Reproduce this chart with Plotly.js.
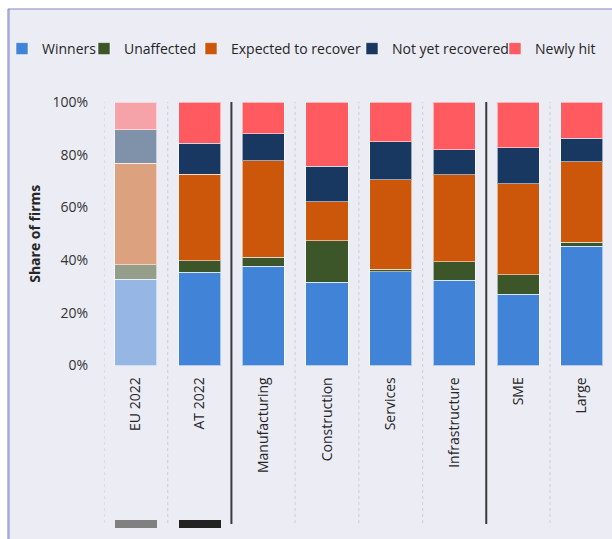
<!DOCTYPE html>
<html>
<head>
<meta charset="utf-8">
<script src="https://cdn.plot.ly/plotly-3.0.1.min.js"></script>
<style>
  html, body { margin: 0; padding: 0; background: #ffffff; }
  #chart { width: 612px; height: 539px; }
</style>
</head>
<body>
<div id="chart"></div>
<script>
// ---- data (shares of firms, %) ----
const categories = ['EU 2022', 'AT 2022', 'Manufacturing', 'Construction', 'Services', 'Infrastructure', 'SME', 'Large'];
const winners         = [32.7, 35.3, 37.7, 31.6, 35.6, 32.4, 27.1, 45.3];
const unaffected      = [5.6, 4.5, 3.4, 15.8, 0.9, 6.9, 7.4, 1.5];
const expectedRecover = [38.4, 32.8, 36.7, 14.8, 34.0, 33.1, 34.5, 30.5];
const notYetRecovered = [12.7, 11.7, 10.2, 13.5, 14.4, 9.5, 13.6, 9.0];
const newlyHit        = [10.6, 15.7, 12.0, 24.3, 15.1, 18.1, 17.4, 13.7];
const seriesNames = ['Winners', 'Unaffected', 'Expected to recover', 'Not yet recovered', 'Newly hit'];
const yTickValues = [0, 20, 40, 60, 80, 100];
const yTickLabels = ['0%', '20%', '40%', '60%', '80%', '100%'];
const benchmarkCategories = ['EU 2022', 'AT 2022'];
const benchmarkMarks = [1, 1];

// ---- styles ----
const darkColors  = ['#4183D6', '#3D5629', '#CC560A', '#183861', '#FF5A60'];
const lightColors = ['#96B7E3', '#949E8A', '#DCA17F', '#8092AA', '#F6A2A9'];
const legendWidths = [37, 62, 116, 98, 65];
const seriesValues = [winners, unaffected, expectedRecover, notYetRecovered, newlyHit];
const barLine = { color: 'rgba(255,255,255,0.55)', width: 1 };

const traces = [];
seriesValues.forEach((vals, s) => {
  // EU benchmark column in faded colours
  traces.push({
    type: 'bar',
    name: seriesNames[s],
    legendgroup: 'g' + s,
    showlegend: false,
    x: categories.slice(0, 1),
    y: vals.slice(0, 1),
    xaxis: 'x', yaxis: 'y',
    marker: { color: lightColors[s], line: barLine },
    hoverinfo: 'skip'
  });
  // remaining columns
  traces.push({
    type: 'bar',
    name: seriesNames[s],
    legendgroup: 'g' + s,
    x: categories.slice(1),
    y: vals.slice(1),
    xaxis: 'x', yaxis: 'y',
    legendwidth: legendWidths[s],
    marker: { color: darkColors[s], line: barLine },
    hoverinfo: 'skip'
  });
});

traces.push({
  type: 'bar',
  x: benchmarkCategories,
  y: benchmarkMarks,
  xaxis: 'x',
  yaxis: 'y2',
  showlegend: false,
  marker: { color: ['#808080', '#222222'], line: { width: 0 } },
  hoverinfo: 'skip'
});

// ---- geometry helpers (pixels -> paper) ----
const W = 612, H = 539, ML = 104, MR = 0, MT = 102, MB = 11;
const PW = W - ML - MR, PH = H - MT - MB;
const px = v => (v - ML) / PW;
const py = v => (H - MB - v) / PH;

const shapes = [];
// panel background
shapes.push({ type: 'rect', xref: 'paper', yref: 'paper', x0: px(8), x1: px(640), y0: py(560), y1: py(9),
  fillcolor: '#ECECF5', line: { width: 0 }, layer: 'below' });
shapes.push({ type: 'line', xref: 'paper', yref: 'paper', x0: px(8.5), x1: px(8.5), y0: py(560), y1: py(9),
  line: { color: '#A9A9D9', width: 2.5 }, layer: 'below' });
shapes.push({ type: 'line', xref: 'paper', yref: 'paper', x0: px(8), x1: px(640), y0: py(9), y1: py(9),
  line: { color: '#8585C8', width: 1 }, layer: 'below' });
// dotted category boundaries
[-0.5, 0.5, 2.5, 3.5, 4.5, 6.5].forEach(b => shapes.push({
  type: 'line', xref: 'x', yref: 'paper', x0: b, x1: b, y0: py(523), y1: 1,
  line: { color: '#D2D2DE', width: 1.2, dash: 'dot' }, layer: 'below'
}));
// group separators
[1.5, 5.5].forEach(b => shapes.push({
  type: 'line', xref: 'x', yref: 'paper', x0: b, x1: b, y0: py(524), y1: 1,
  line: { color: '#3A3A3A', width: 2 }, layer: 'above'
}));

const layout = {
  width: W, height: H,
  margin: { l: ML, r: MR, t: MT, b: MB, pad: 0 },
  paper_bgcolor: '#ffffff',
  plot_bgcolor: 'rgba(0,0,0,0)',
  font: { family: '"Open Sans", sans-serif', size: 14, color: '#333333' },
  barmode: 'stack',
  bargap: 0.34,
  showlegend: true,
  legend: {
    orientation: 'h', x: px(2), xanchor: 'left', y: py(49), yanchor: 'middle',
    font: { size: 14, color: '#262626' }, bgcolor: 'rgba(0,0,0,0)', traceorder: 'normal'
  },
  xaxis: {
    type: 'category',
    categoryorder: 'array',
    categoryarray: categories,
    range: [-0.5, -0.5 + PW / 63.71],
    tickangle: -90,
    showgrid: false, zeroline: false, showline: false, ticks: '',
    tickfont: { size: 14, color: '#262626' },
    ticklabelstandoff: 8,
    fixedrange: true
  },
  yaxis: {
    domain: [py(365.5), 1],
    range: [0, 100],
    tickmode: 'array',
    tickvals: yTickValues,
    ticktext: yTickLabels,
    showgrid: false, zeroline: false, showline: false, ticks: '',
    tickfont: { size: 14, color: '#333333' },
    ticklabelstandoff: 15,
    title: { text: '<b>Share of firms</b>', font: { size: 14, color: '#262626' }, standoff: 8 },
    fixedrange: true
  },
  yaxis2: {
    domain: [0, py(520)],
    range: [0, 1],
    anchor: 'x',
    visible: false,
    fixedrange: true
  },
  shapes: shapes
};

Plotly.newPlot('chart', traces, layout, { displayModeBar: false, staticPlot: true });
</script>
</body>
</html>
